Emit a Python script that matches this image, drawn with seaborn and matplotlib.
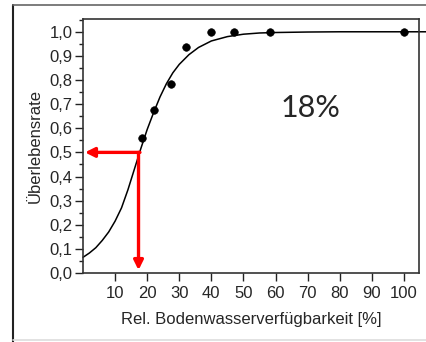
import numpy as np
import pandas as pd
import matplotlib.pyplot as plt
import seaborn as sb
from matplotlib.ticker import MultipleLocator, FuncFormatter

sb.set_style('ticks')
plt.rcParams['font.family'] = ['Liberation Sans', 'DejaVu Sans']

# Messpunkte
wasser = [18.5, 22, 27.3, 32.2, 40, 47, 58.3, 100]
ueberleben = [0.56, 0.675, 0.785, 0.937, 1.0, 1.0, 1.0, 1.0]

# angepasste Kurve
kurve_x = [0, 2, 4, 6, 8, 10, 12, 14, 16, 18, 20, 22, 24, 26, 28, 30, 33, 36,
           40, 45, 50, 55, 60, 70, 80, 107]
kurve_y = [0.065, 0.083, 0.105, 0.135, 0.17, 0.215, 0.27, 0.345, 0.43, 0.515,
           0.595, 0.665, 0.73, 0.785, 0.83, 0.865, 0.905, 0.935, 0.962, 0.98,
           0.99, 0.995, 0.997, 0.999, 1.0, 1.0]

schwelle = 17.3
hälfte = 0.5

punkte = pd.DataFrame({'x': wasser, 'y': ueberleben})
kurve = pd.DataFrame({'x': kurve_x, 'y': kurve_y})

fig = plt.figure(figsize=(4.27, 3.42), dpi=100)
ax = fig.add_axes([83/427, 1 - 273/342, (419-83)/427, (273-19)/342])

sb.lineplot(data=kurve, x='x', y='y', color='black', lw=1.1, ax=ax, clip_on=False)
sb.scatterplot(data=punkte, x='x', y='y', color='black', s=30, edgecolor='black', ax=ax, zorder=4, clip_on=False)

# rote Pfeile
pfeil = dict(arrowstyle='-|>', color='#ff0000', lw=2.4, mutation_scale=14, shrinkA=0, shrinkB=0)
ax.annotate('', xy=(0.6, hälfte), xytext=(schwelle + 0.45, hälfte), arrowprops=pfeil)
ax.annotate('', xy=(schwelle, 0.012), xytext=(schwelle, hälfte), arrowprops=pfeil)

ax.text(70.8, 0.683, '18%', fontsize=22, family=['Lato', 'DejaVu Sans'], ha='center', va='center')

ax.set_xlim(0, 104.7)
ax.set_ylim(0, 1.053)
ax.set_xticks(np.arange(10, 101, 10))
ax.yaxis.set_major_locator(MultipleLocator(0.1))
ax.yaxis.set_minor_locator(MultipleLocator(0.05))
ax.yaxis.set_major_formatter(FuncFormatter(lambda v, p: f'{v:.1f}'.replace('.', ',')))
ax.tick_params(axis='both', which='major', length=5.5, width=1, labelsize=12, color='#222222')
ax.tick_params(axis='x', which='major', pad=4)
ax.tick_params(axis='y', which='major', pad=2)
ax.tick_params(axis='y', which='minor', length=3, width=1, color='#222222')
for s in ax.spines.values():
    s.set_color('#333333')
    s.set_linewidth(1.2)

ax.set_xlabel('Rel. Bodenwasserverfügbarkeit [%]', fontsize=12, labelpad=8)
ax.set_ylabel('Überlebensrate', fontsize=12, labelpad=5)

# äußerer Rahmen
fig.add_artist(plt.Line2D([13/427, 13/427], [0, 1 - 5/342], color='#222222', lw=1.5))
fig.add_artist(plt.Line2D([13/427, 1], [1 - 5/342, 1 - 5/342], color='#666666', lw=1.2))
fig.add_artist(plt.Line2D([13/427, 1], [2/342, 2/342], color='#dddddd', lw=1.2))

fig.savefig('out.png', dpi=100)
